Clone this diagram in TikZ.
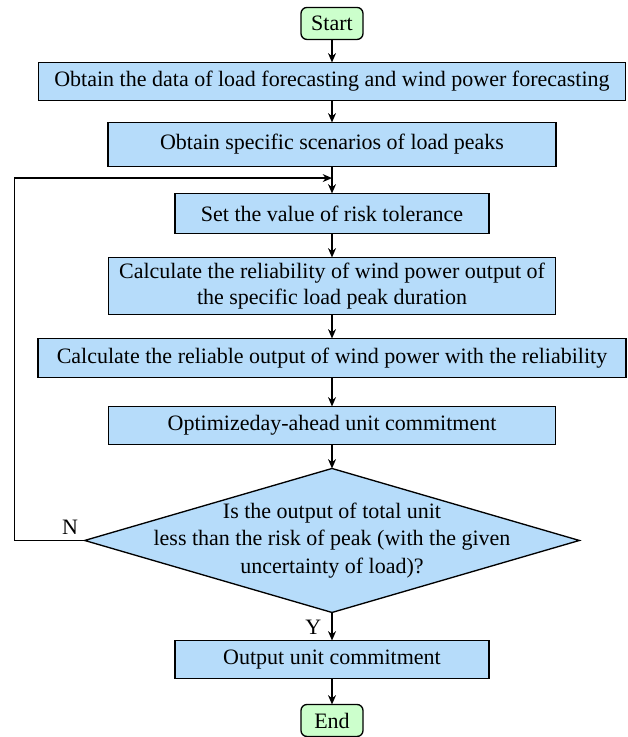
\documentclass[tikz,border=0pt]{standalone}
\usepackage{fontspec}
\setmainfont{Liberation Serif}
\usetikzlibrary{shapes.geometric, arrows.meta, positioning, calc}
\definecolor{stepblue}{RGB}{182,220,250}
\definecolor{termgreen}{RGB}{204,255,204}
\tikzset{
  term_block/.style={rectangle, draw=black, fill=termgreen, line width=1pt, rounded corners=4.5pt, minimum width=46.5pt, minimum height=24pt, inner sep=2pt, outer sep=0pt},
  step_block/.style={rectangle, draw=black, fill=stepblue, line width=1pt, minimum height=28.5pt, align=center, inner sep=3pt, outer sep=0pt},
  decision_block/.style={diamond, draw=black, fill=stepblue, line width=1pt, minimum width=371pt, minimum height=108pt, inner sep=0pt, outer sep=0pt},
  decision_text/.style={align=center, font=\fontsize{16.5}{20.5}\selectfont},
  arrow/.style={-{Stealth[length=7pt, width=6pt]}, line width=0.9pt, black},
  yn_label/.style={font=\fontsize{16.5}{19}\selectfont, inner sep=1pt}
}

\begin{document}
\begin{tikzpicture}[node distance=18pt, font=\fontsize{16.5}{19.5}\selectfont]
\useasboundingbox (0,0) rectangle (470.25pt,-552.75pt);

    % Blocks
    \node (start) [term_block] at (249pt,-17.6pt) {Start};
    \node (data) [step_block, below=17.25pt of start, minimum width=440pt] {Obtain the data of load forecasting and wind power forecasting};
    \node (scen) [step_block, below=16.5pt of data, minimum width=336pt, minimum height=33pt] {Obtain specific scenarios of load peaks};
    \node (risk) [step_block, below=20.25pt of scen, minimum width=235.5pt, minimum height=30pt] {Set the value of risk tolerance};
    \node (rel) [step_block, below=of risk, minimum width=335pt, minimum height=42.75pt] {Calculate the reliability of wind power output of\\the specific load peak duration};
    \node (relout) [step_block, below=of rel, minimum width=441pt, minimum height=29.25pt] {Calculate the reliable output of wind power with the reliability};
    \node (uc) [step_block, below=21.75pt of relout, minimum width=335pt] {Optimizeday-ahead unit commitment};
    \node (check) [decision_block, below=of uc] {};
    \node (checktxt) [decision_text] at (check) {Is the output of total unit\\less than the risk of peak (with the given\\uncertainty of load)?};
    \node (out) [step_block, below=21pt of check, minimum width=235.5pt] {Output unit commitment};
    \node (end) [term_block, below=19.5pt of out] {End};

    % Connections
    \draw [arrow] (start) -- (data);
    \draw [arrow] (data) -- (scen);
    \draw [arrow] (scen) -- (risk);
    \draw [arrow] (risk) -- (rel);
    \draw [arrow] (rel) -- (relout);
    \draw [arrow] (relout) -- (uc);
    \draw [arrow] (uc) -- (check);
    \draw [arrow] (check) -- (out);
    \draw [arrow] (out) -- (end);

    % Loop back
    \coordinate (loop) at ($(scen.south)!0.43!(risk.north)$);
    \draw [arrow] (check.west) -- ++(-52.5pt,0) |- (loop);
    \node (no) [yn_label] at ($(check.west)+(-11pt,10pt)$) {N};
    \node (yes) [yn_label] at ($(check.south)+(-14pt,-11pt)$) {Y};
\end{tikzpicture}
\end{document}
